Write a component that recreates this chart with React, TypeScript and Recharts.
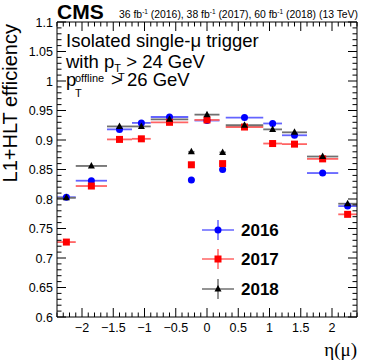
import React from "react";
import { ScatterChart, Scatter, XAxis, YAxis, ErrorBar } from "recharts";

// eta bins (centre and half width)
const etaCenters = [-2.25, -1.85, -1.4, -1.05, -0.6, -0.25, 0, 0.25, 0.6, 1.05, 1.4, 1.85, 2.25];
const etaHalfWidths = [0.15, 0.25, 0.2, 0.15, 0.3, 0.05, 0.2, 0.05, 0.3, 0.15, 0.2, 0.25, 0.15];

const eff2016 = [0.803, 0.831, 0.918, 0.929, 0.939, 0.832, 0.933, 0.85, 0.938, 0.928, 0.908, 0.844, 0.788];
const eff2017 = [0.727, 0.822, 0.901, 0.902, 0.93, 0.858, 0.934, 0.86, 0.922, 0.894, 0.893, 0.868, 0.774];
const eff2018 = [0.802, 0.856, 0.923, 0.923, 0.935, 0.88, 0.943, 0.879, 0.925, 0.918, 0.913, 0.872, 0.792];

const xMajorTicks = [-2, -1.5, -1, -0.5, 0, 0.5, 1, 1.5, 2];
const yMajorTicks = [0.6, 0.65, 0.7, 0.75, 0.8, 0.85, 0.9, 0.95, 1, 1.05, 1.1];

const W = 374;
const H = 363;
const FONT = "'Liberation Sans', Arial, Helvetica, sans-serif";

function build(vals: number[]) {
  return etaCenters.map((x, i) => ({ x, y: vals[i], ex: etaHalfWidths[i] }));
}
const d2016 = build(eff2016);
const d2017 = build(eff2017);
const d2018 = build(eff2018);

// minor ticks every 0.1 on x, every 0.01 on y
const xTicks: number[] = [];
for (let i = -24; i <= 24; i++) xTicks.push(i / 10);
const yTicks: number[] = [];
for (let i = 60; i <= 110; i++) yTicks.push(i / 100);

const isMajor = (v: number, list: number[]) => list.some((m) => Math.abs(m - v) < 1e-6);
const fmt = (v: number) => {
  const s = String(Math.round(v * 100) / 100);
  return v < 0 ? "\u2212" + s.slice(1) : s;
};

const BottomTick = (p: any) => {
  const v = p.payload.value;
  const major = isMajor(v, xMajorTicks);
  return (
    <g>
      <line x1={p.x} x2={p.x} y1={p.y} y2={p.y - (major ? 9 : 4.5)} stroke="#000" />
      {major && (
        <text x={p.x} y={p.y + 15} textAnchor="middle" fontSize={12.5} fontFamily={FONT} fill="#000">
          {fmt(v)}
        </text>
      )}
    </g>
  );
};

const TopTick = (p: any) => {
  const major = isMajor(p.payload.value, xMajorTicks);
  return <line x1={p.x} x2={p.x} y1={p.y} y2={p.y + (major ? 9 : 4.5)} stroke="#000" />;
};

const LeftTick = (p: any) => {
  const v = p.payload.value;
  const major = isMajor(v, yMajorTicks);
  return (
    <g>
      <line x1={p.x} x2={p.x + (major ? 9 : 4.5)} y1={p.y} y2={p.y} stroke="#000" />
      {major && (
        <text x={p.x - 4} y={p.y + 4.5} textAnchor="end" fontSize={12.5} fontFamily={FONT} fill="#000">
          {fmt(v)}
        </text>
      )}
    </g>
  );
};

const RightTick = (p: any) => {
  const major = isMajor(p.payload.value, yMajorTicks);
  return <line x1={p.x} x2={p.x - (major ? 9 : 4.5)} y1={p.y} y2={p.y} stroke="#000" />;
};

const Circle = (p: any) => <circle cx={p.cx} cy={p.cy} r={3.5} fill="#0000ff" />;
const Square = (p: any) => <rect x={p.cx - 3.5} y={p.cy - 3.5} width={7} height={7} fill="#ff0000" />;
const Triangle = (p: any) => (
  <polygon points={`${p.cx},${p.cy - 4} ${p.cx - 3.5},${p.cy + 2.5} ${p.cx + 3.5},${p.cy + 2.5}`} fill="#000" />
);

function LegendRow({ y, color, bar, label, marker }: any) {
  return (
    <g>
      <line x1={202} x2={234} y1={y} y2={y} stroke={bar} strokeWidth={1.5} />
      <line x1={218} x2={218} y1={y - 10} y2={y + 10} stroke={bar} strokeWidth={1.5} />
      {marker === "c" && <circle cx={218} cy={y} r={3.5} fill={color} />}
      {marker === "s" && <rect x={214.5} y={y - 3.5} width={7} height={7} fill={color} />}
      {marker === "t" && <polygon points={`218,${y - 4} 214.5,${y + 2.5} 221.5,${y + 2.5}`} fill={color} />}
      <text x={241} y={y + 6} fontSize={17} fontWeight="bold" fontFamily={FONT} fill="#000">
        {label}
      </text>
    </g>
  );
}

export default function App() {
  return (
    <div style={{ position: "absolute", left: 0, top: 0, width: W, height: H, background: "#fff" }}>
      <ScatterChart width={W} height={H} margin={{ top: 0, right: 0, bottom: 0, left: 0 }}>
        <XAxis
          xAxisId="b"
          type="number"
          dataKey="x"
          domain={[-2.4, 2.4]}
          ticks={xTicks}
          interval={0}
          allowDataOverflow
          height={46}
          tickSize={0}
          tickMargin={0}
          tickLine={false}
          axisLine={{ stroke: "#000" }}
          tick={<BottomTick />}
        />
        <XAxis
          xAxisId="t"
          orientation="top"
          type="number"
          dataKey="x"
          domain={[-2.4, 2.4]}
          ticks={xTicks}
          interval={0}
          allowDataOverflow
          height={22}
          tickSize={0}
          tickMargin={0}
          tickLine={false}
          axisLine={{ stroke: "#000" }}
          tick={<TopTick />}
        />
        <YAxis
          yAxisId="l"
          type="number"
          dataKey="y"
          domain={[0.6, 1.1]}
          ticks={yTicks}
          interval={0}
          allowDataOverflow
          width={57}
          tickSize={0}
          tickMargin={0}
          tickLine={false}
          axisLine={{ stroke: "#000" }}
          tick={<LeftTick />}
        />
        <YAxis
          yAxisId="r"
          orientation="right"
          type="number"
          dataKey="y"
          domain={[0.6, 1.1]}
          ticks={yTicks}
          interval={0}
          allowDataOverflow
          width={17}
          tickSize={0}
          tickMargin={0}
          tickLine={false}
          axisLine={{ stroke: "#000" }}
          tick={<RightTick />}
        />
        <Scatter xAxisId="b" yAxisId="l" data={d2016} shape={<Circle />} isAnimationActive={false}>
          <ErrorBar dataKey="ex" direction="x" width={0} stroke="#6464ff" strokeWidth={1.8} />
        </Scatter>
        <Scatter xAxisId="b" yAxisId="l" data={d2017} shape={<Square />} isAnimationActive={false}>
          <ErrorBar dataKey="ex" direction="x" width={0} stroke="#ff6464" strokeWidth={1.8} />
        </Scatter>
        <Scatter xAxisId="b" yAxisId="l" data={d2018} shape={<Triangle />} isAnimationActive={false}>
          <ErrorBar dataKey="ex" direction="x" width={0} stroke="#707070" strokeWidth={1.8} />
        </Scatter>
      </ScatterChart>

      <svg width={W} height={H} style={{ position: "absolute", left: 0, top: 0, pointerEvents: "none" }}>
        <text x={57} y={18.5} fontSize={21} fontWeight="bold" fontFamily={FONT} fill="#000">
          CMS
        </text>
        <text x={358} y={18} textAnchor="end" fontSize={10.4} fontFamily={FONT} fill="#000">
          36 fb<tspan dy={-4} fontSize={6.5}>-1</tspan>
          <tspan dy={4}> (2016), 38 fb</tspan>
          <tspan dy={-4} fontSize={6.5}>-1</tspan>
          <tspan dy={4}> (2017), 60 fb</tspan>
          <tspan dy={-4} fontSize={6.5}>-1</tspan>
          <tspan dy={4}> (2018) (13 TeV)</tspan>
        </text>

        <text transform="translate(17,24) rotate(-90)" textAnchor="end" fontSize={20} fontFamily={FONT} fill="#000">
          L1+HLT efficiency
        </text>
        <text x={357} y={356} textAnchor="end" fontSize={19} fontFamily="'Liberation Serif', 'Times New Roman', serif" fill="#000">
          η(μ)
        </text>

        <text x={66} y={47} fontSize={18.5} fontFamily={FONT} fill="#000">
          Isolated single-μ trigger
        </text>
        <text x={66} y={67.5} fontSize={18.5} fontFamily={FONT} fill="#000">
          with p<tspan dy={4} fontSize={11}>T</tspan>
          <tspan dy={-4}> &gt; 24 GeV</tspan>
        </text>
        <text x={66} y={86} fontSize={18.5} fontFamily={FONT} fill="#000">
          p
        </text>
        <text x={75} y={82} fontSize={11} fontFamily={FONT} fill="#000">
          offline
        </text>
        <text x={75} y={97} fontSize={11} fontFamily={FONT} fill="#000">
          T
        </text>
        <text x={118} y={81} fontSize={11} fontFamily={FONT} fill="#000">
          T
        </text>
        <text x={111} y={86} fontSize={18.5} fontFamily={FONT} fill="#000">
          &gt; 26 GeV
        </text>

        <LegendRow y={230} color="#0000ff" bar="#6464ff" label="2016" marker="c" />
        <LegendRow y={259} color="#ff0000" bar="#ff6464" label="2017" marker="s" />
        <LegendRow y={289} color="#000" bar="#707070" label="2018" marker="t" />
      </svg>
    </div>
  );
}
